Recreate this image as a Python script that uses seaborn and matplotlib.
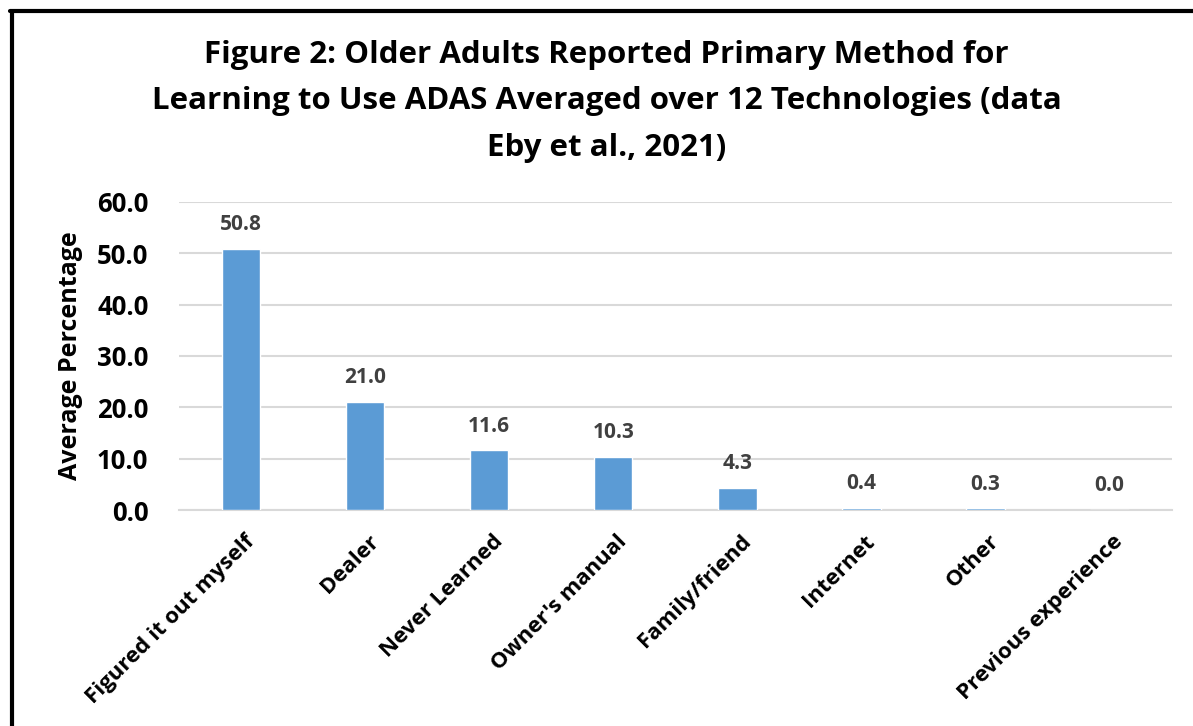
import matplotlib
matplotlib.use("Agg")
import matplotlib.pyplot as plt
import matplotlib.transforms as mtransforms
import seaborn as sns
import pandas as pd
from matplotlib.lines import Line2D

categories = ["Figured it out myself", "Dealer", "Never Learned", "Owner's manual",
              "Family/friend", "Internet", "Other", "Previous experience"]
values = [50.8, 21.0, 11.6, 10.3, 4.3, 0.4, 0.3, 0.0]
yticks = [0, 10, 20, 30, 40, 50, 60]
title = ("Figure 2: Older Adults Reported Primary Method for\n"
         "Learning to Use ADAS Averaged over 12 Technologies (data\n"
         "Eby et al., 2021)")

sns.set_theme(style="white")
plt.rcParams['font.family'] = ['Open Sans', 'DejaVu Sans']
plt.rcParams['text.color'] = 'black'
plt.rcParams['axes.labelcolor'] = 'black'
plt.rcParams['xtick.color'] = 'black'
plt.rcParams['ytick.color'] = 'black'

df = pd.DataFrame({"cat": categories, "val": values})
fig = plt.figure(figsize=(11.93, 7.26), dpi=100)
ax = fig.add_axes([0.150, 0.2975, 0.832, 0.4245])
sns.barplot(data=df, x="cat", y="val", color="#5B9BD5", saturation=1,
            width=0.31, ax=ax, zorder=3)
ax.set_ylim(0, 60)
ax.set_xlim(-0.5, len(categories) - 0.5)
ax.set_yticks(yticks)
ax.set_yticklabels([f"{v:.1f}" for v in yticks], fontsize=18.5, fontweight="bold")
ax.yaxis.grid(True, color="#D9D9D9", linewidth=1.5, zorder=0)
ax.set_axisbelow(True)
for s in ["top", "right", "left"]:
    ax.spines[s].set_visible(False)
ax.spines["bottom"].set_color("#D9D9D9")
ax.spines["bottom"].set_linewidth(1.5)
ax.tick_params(axis="y", length=0, pad=22)
ax.tick_params(axis="x", length=0, pad=15)
ax.set_xticks(range(len(categories)))
ax.set_xticklabels(categories, rotation=45, ha="right", rotation_mode="anchor",
                   fontsize=16, fontweight="bold")
offset = mtransforms.ScaledTranslation(0.03, 0, fig.dpi_scale_trans)
for lbl in ax.get_xticklabels():
    lbl.set_transform(lbl.get_transform() + offset)
ax.set_xlabel("")
ax.set_ylabel("Average Percentage", fontsize=18, fontweight="bold", labelpad=10)
for c in ax.containers:
    ax.bar_label(c, labels=[f"{v:.1f}" for v in values], padding=10,
                 fontsize=15, fontweight="bold", color="#404040")

fig.text(0.5084, 0.945, title, ha="center", va="top", fontsize=22.5,
         fontweight="bold", linespacing=1.72, color="black")

# partial border (left and top)
fig.add_artist(Line2D([0.0097, 0.0097], [0, 0.9855], transform=fig.transFigure,
                      color="black", linewidth=3))
fig.add_artist(Line2D([0.0085, 1.0], [0.9855, 0.9855], transform=fig.transFigure,
                      color="black", linewidth=3))

fig.savefig("out.png", dpi=100)
